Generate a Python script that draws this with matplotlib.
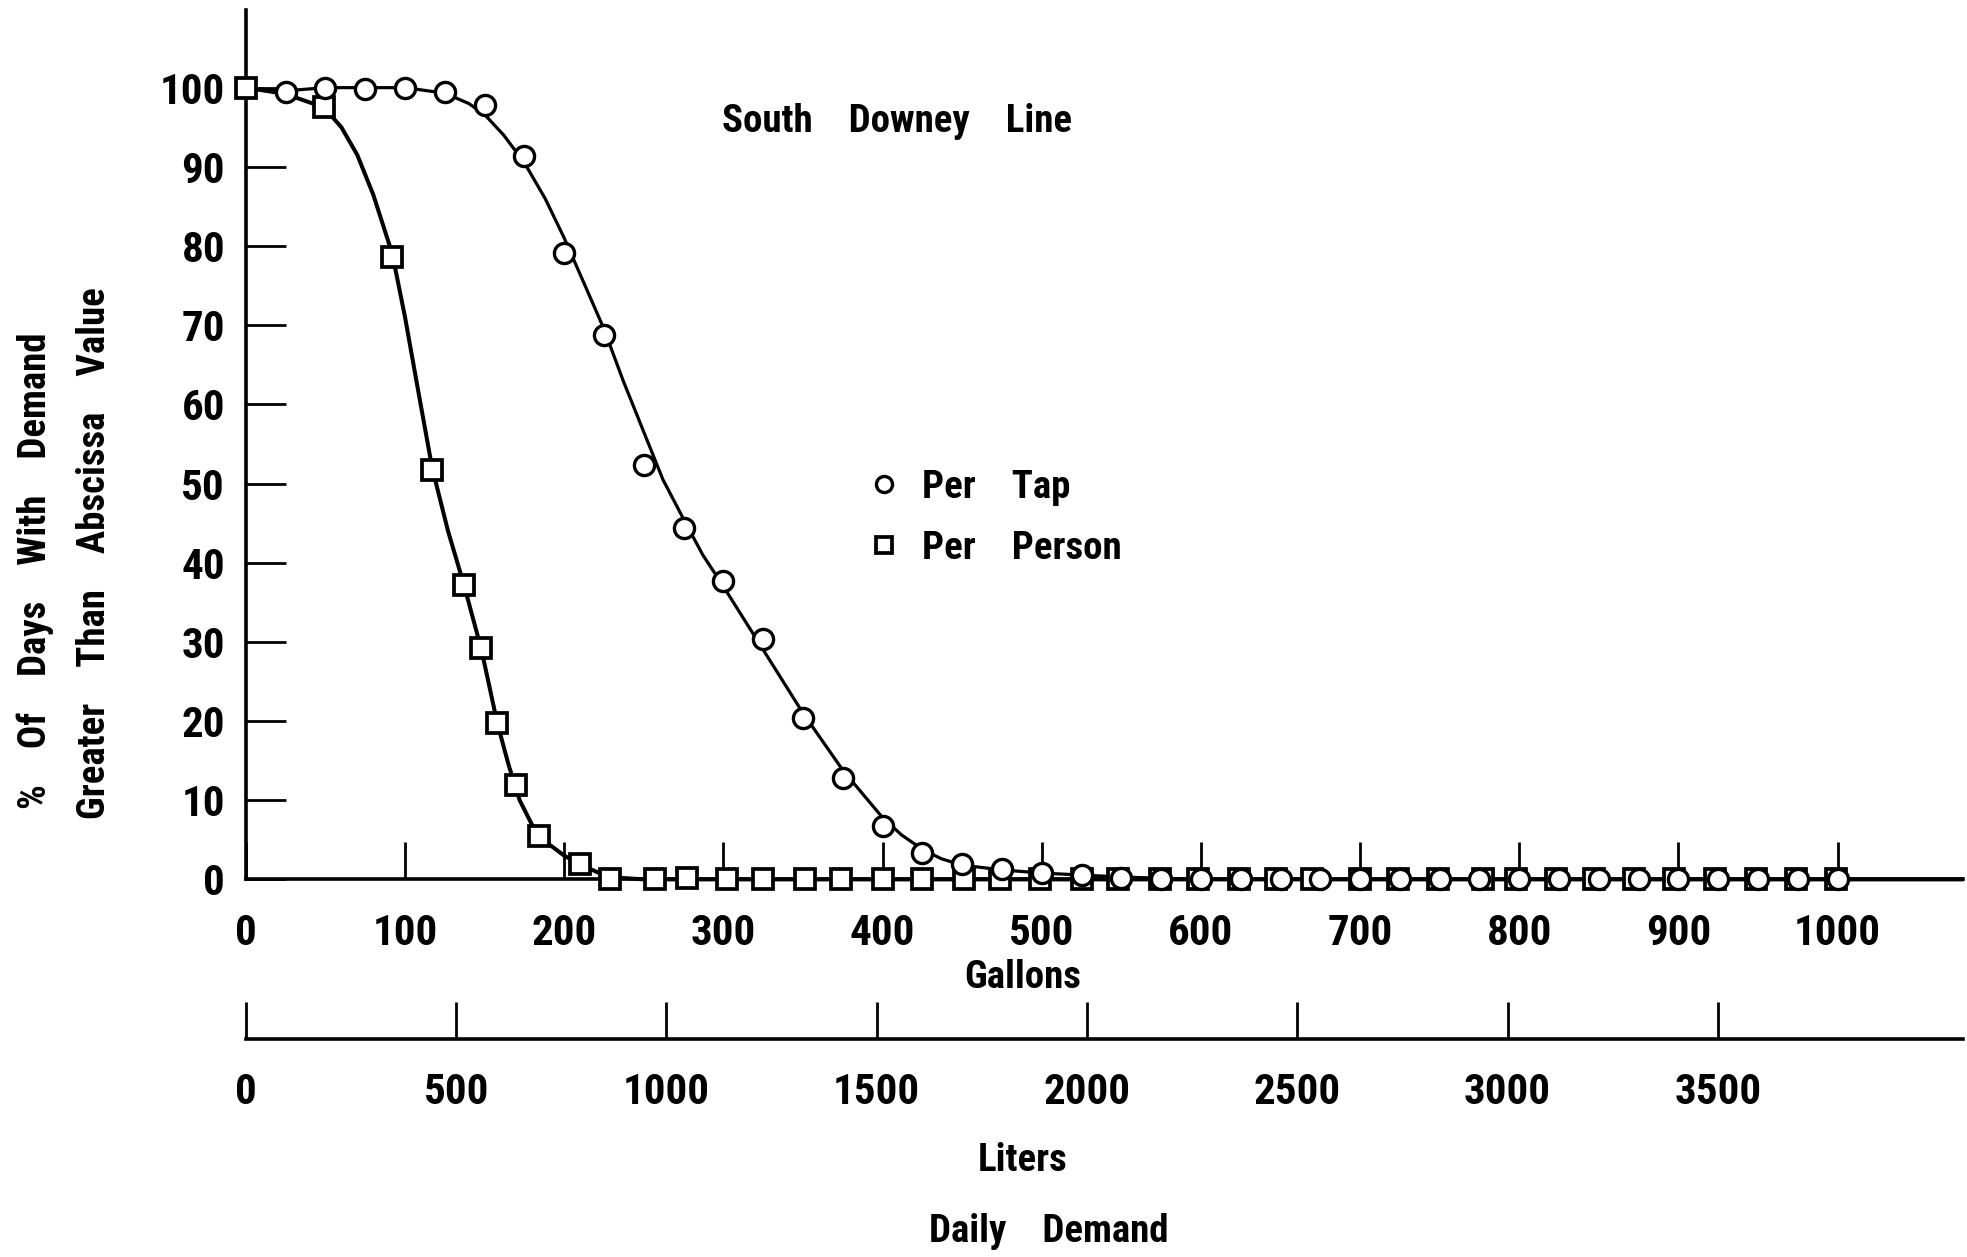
import numpy as np
import matplotlib
matplotlib.use("Agg")
import matplotlib.pyplot as plt

# -----------------------------
# DATA
# -----------------------------
# Per Tap - measured points (gallons, % of days)
tap_gal = [25, 50, 75, 100, 125, 150, 175, 200, 225, 250, 275, 300, 325, 350,
           375, 400, 425, 450, 475, 500, 525, 550, 575, 600, 625, 650, 675,
           700, 725, 750, 775, 800, 825, 850, 875, 900, 925, 950, 975, 1000]
tap_pct = [99.5, 100.0, 99.8, 100.0, 99.4, 97.8, 91.4, 79.1, 68.7, 52.3, 44.4,
           37.7, 30.3, 20.4, 12.8, 6.8, 3.3, 2.0, 1.3, 0.8, 0.6, 0.2, 0.1, 0.0,
           0.0, 0.0, 0.0, 0.0, 0.0, 0.0, 0.0, 0.0, 0.0, 0.0, 0.0, 0.0, 0.0,
           0.0, 0.0, 0.0]

# Per Person - measured points
person_gal = [0, 49, 92, 117, 137, 148, 158, 170, 184, 210, 229, 257, 277,
              302, 325, 351, 374, 400, 425, 451, 474, 499, 525, 548, 574, 598,
              624, 647, 670, 700, 724, 749, 777, 798, 823, 847, 872, 897, 923,
              949, 974, 999]
person_pct = [100.0, 97.5, 78.6, 51.7, 37.2, 29.2, 19.7, 11.9, 5.5, 1.9, 0.0,
              0.0, 0.2, 0.0, 0.1, 0.1, 0.1, 0.1, 0.1, 0.1, 0.0, 0.1, 0.0, 0.0,
              0.0, 0.1, 0.0, 0.0, 0.0, 0.0, 0.0, 0.0, 0.0, 0.0, 0.0, 0.0, 0.0,
              0.0, 0.0, 0.0, 0.0, 0.0]

# hand-drawn smooth curves
tap_curve_gal = [0, 25, 50, 75, 100, 125, 140, 150, 162, 175, 188, 200, 212,
                 225, 237, 250, 262, 275, 287, 300, 325, 350, 375, 400, 412,
                 425, 437, 450, 475, 500, 550, 600, 1078]
tap_curve_pct = [100.0, 99.6, 100.0, 100.0, 100.0, 99.3, 98.0, 96.6, 94.0,
                 90.5, 86.0, 81.0, 75.5, 69.5, 63.0, 56.5, 50.5, 45.5, 41.0,
                 37.0, 29.0, 21.0, 13.8, 7.8, 5.6, 3.8, 2.6, 1.8, 1.2, 0.8, 0.3,
                 0.0, 0.0]
person_curve_gal = [0, 25, 49, 60, 70, 80, 92, 100, 108, 117, 127, 137, 148,
                    158, 165, 172, 180, 190, 200, 210, 222, 235, 250, 1078]
person_curve_pct = [100.0, 99.2, 97.5, 95.0, 91.5, 86.5, 79.0, 71.0, 62.0,
                    52.0, 44.0, 37.2, 29.0, 19.7, 14.5, 10.0, 6.8, 4.5, 3.0,
                    1.9, 0.8, 0.2, 0.0, 0.0]

gal_ticks = list(range(0, 1001, 100))
liter_ticks = list(range(0, 3501, 500))
pct_ticks = list(range(0, 101, 10))
LITERS_PER_GAL = 3.785

# -----------------------------
# STYLE
# -----------------------------
plt.rcParams["font.family"] = ["Roboto Condensed", "DejaVu Sans"]
plt.rcParams["font.weight"] = "bold"
FS = 31      # tick numbers
FT = 28      # words

fig = plt.figure(figsize=(19.67, 12.57), dpi=100)
ax = fig.add_axes([0.125, 0.3004, 0.873, 0.6916])
ax.set_xlim(0, 1078.8)
ax.set_ylim(0, 109.8)

for side in ["top", "right"]:
    ax.spines[side].set_visible(False)
ax.spines["left"].set_linewidth(2.6)
ax.spines["bottom"].set_linewidth(2.6)

# curves
ax.plot(tap_curve_gal, tap_curve_pct, color="black", lw=2.3, clip_on=False, zorder=2)
ax.plot(person_curve_gal, person_curve_pct, color="black", lw=2.9, clip_on=False, zorder=2)

# points
sq, = ax.plot(person_gal, person_pct, linestyle="none", marker="s", ms=14,
              mfc="white", mec="black", mew=2.7, clip_on=False, zorder=3)
ci, = ax.plot(tap_gal, tap_pct, linestyle="none", marker="o", ms=14.5,
              mfc="white", mec="black", mew=2.4, clip_on=False, zorder=4)

ax.set_xticks(gal_ticks)
ax.set_yticks(pct_ticks)
ax.tick_params(axis="x", direction="in", length=27, width=2, pad=24, labelsize=FS)
ax.tick_params(axis="y", direction="in", length=29, width=2, pad=15, labelsize=FS)

# liters scale below
sec = ax.secondary_xaxis(-0.1833, functions=(lambda g: g * LITERS_PER_GAL,
                                             lambda l: l / LITERS_PER_GAL))
sec.set_xticks(liter_ticks)
sec.tick_params(axis="x", direction="in", length=27, width=2, pad=24, labelsize=FS)
sec.spines["bottom"].set_linewidth(2.6)

# texts
ax.text(0.379, 0.872, "South    Downey    Line", transform=ax.transAxes,
        fontsize=FT, ha="center", va="center")
fig.text(0.52, 0.2226, "Gallons", fontsize=FT, ha="center", va="center")
fig.text(0.52, 0.0768, "Liters", fontsize=FT, ha="center", va="center")
fig.text(0.533, 0.020, "Daily    Demand", fontsize=FT, ha="center", va="center")
fig.text(0.0179, 0.546, "%    Of    Days    With    Demand", fontsize=FT,
         rotation=90, ha="center", va="center")
fig.text(0.0478, 0.560, "Greater    Than    Abscissa    Value", fontsize=FT,
         rotation=90, ha="center", va="center")

ax.legend([ci, sq], ["Per    Tap", "Per    Person"], loc="center left",
          bbox_to_anchor=(0.360, 0.416), frameon=False, fontsize=FT,
          markerscale=0.8, handlelength=1.0, handletextpad=0.5,
          borderpad=0, borderaxespad=0, labelspacing=0.62)

fig.savefig("out.png", dpi=100, facecolor="white")
